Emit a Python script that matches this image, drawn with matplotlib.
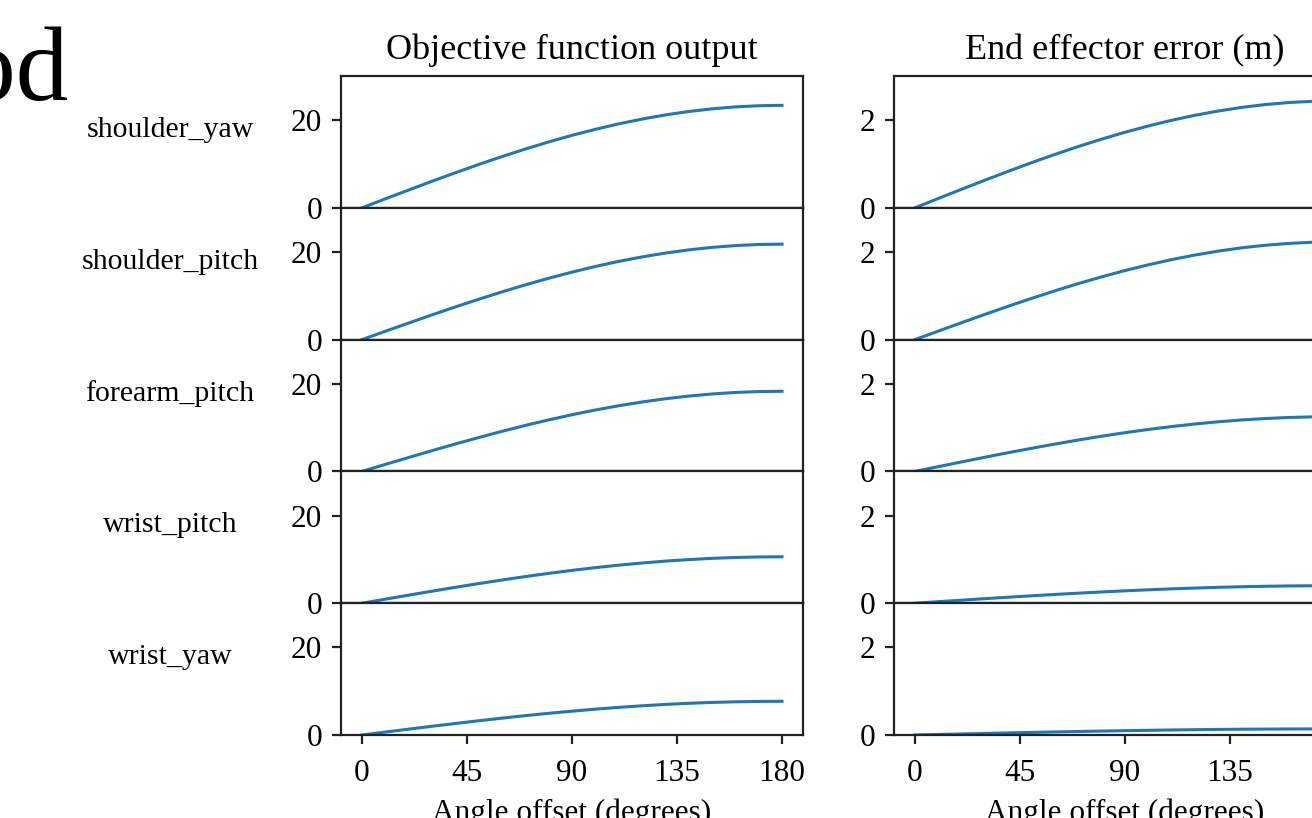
import matplotlib
matplotlib.use("Agg")
import matplotlib.pyplot as plt

# ---- data ----
angles = [0, 10, 20, 30, 40, 50, 60, 70, 80, 90, 100, 110, 120, 130, 140, 150, 160, 170, 180]
joints = ["shoulder_yaw", "shoulder_pitch", "forearm_pitch", "wrist_pitch", "wrist_yaw"]

obj_shoulder_yaw   = [0, 2.04, 4.06, 6.06, 8.00, 9.89, 11.70, 13.42, 15.04, 16.55, 17.92, 19.17, 20.26, 21.21, 21.99, 22.60, 23.04, 23.31, 23.4]
obj_shoulder_pitch = [0, 1.90, 3.78, 5.64, 7.46, 9.21, 10.90, 12.50, 14.01, 15.41, 16.70, 17.86, 18.88, 19.76, 20.49, 21.06, 21.47, 21.72, 21.8]
obj_forearm_pitch  = [0, 1.60, 3.18, 4.74, 6.26, 7.73, 9.15, 10.50, 11.76, 12.94, 14.02, 14.99, 15.85, 16.59, 17.20, 17.68, 18.02, 18.23, 18.3]
obj_wrist_pitch    = [0, 0.92, 1.84, 2.74, 3.63, 4.48, 5.30, 6.08, 6.81, 7.50, 8.12, 8.68, 9.18, 9.61, 9.96, 10.24, 10.44, 10.56, 10.6]
obj_wrist_yaw      = [0, 0.67, 1.34, 1.99, 2.63, 3.25, 3.85, 4.42, 4.95, 5.44, 5.90, 6.31, 6.67, 6.98, 7.24, 7.44, 7.58, 7.67, 7.7]

err_shoulder_yaw   = [0, 0.213, 0.424, 0.631, 0.834, 1.031, 1.22, 1.40, 1.568, 1.725, 1.869, 1.999, 2.113, 2.211, 2.293, 2.357, 2.403, 2.431, 2.44]
err_shoulder_pitch = [0, 0.194, 0.387, 0.577, 0.763, 0.942, 1.115, 1.279, 1.433, 1.577, 1.708, 1.827, 1.931, 2.021, 2.096, 2.154, 2.196, 2.222, 2.23]
err_forearm_pitch  = [0, 0.109, 0.217, 0.324, 0.428, 0.528, 0.625, 0.717, 0.804, 0.884, 0.958, 1.024, 1.083, 1.133, 1.175, 1.207, 1.231, 1.245, 1.25]
err_wrist_pitch    = [0, 0.035, 0.069, 0.104, 0.137, 0.169, 0.2, 0.229, 0.257, 0.283, 0.306, 0.328, 0.346, 0.363, 0.376, 0.386, 0.394, 0.398, 0.4]
err_wrist_yaw      = [0, 0.012, 0.024, 0.036, 0.048, 0.059, 0.07, 0.08, 0.09, 0.099, 0.107, 0.115, 0.121, 0.127, 0.132, 0.135, 0.138, 0.139, 0.14]

objective = [obj_shoulder_yaw, obj_shoulder_pitch, obj_forearm_pitch, obj_wrist_pitch, obj_wrist_yaw]
ee_error = [err_shoulder_yaw, err_shoulder_pitch, err_forearm_pitch, err_wrist_pitch, err_wrist_yaw]

col_titles = ["Objective function output", "End effector error (m)"]
x_ticks = [0, 45, 90, 135, 180]
obj_ticks = [0, 20]
err_ticks = [0, 2]
x_label = "Angle offset (degrees)"

# ---- style ----
plt.rcParams["font.family"] = ["Liberation Serif", "DejaVu Serif"]
W, H = 1312, 818
fig = plt.figure(figsize=(W / 100, H / 100), dpi=100)

ax_w = 462
row_h = 131.8
top = 76
lefts = [341, 894]
line_color = "#1f77b4"
ink = "#222222"

for c in range(2):
    data = objective if c == 0 else ee_error
    yt = obj_ticks if c == 0 else err_ticks
    ytop = 30.1 if c == 0 else 3.01
    for r in range(5):
        y0 = top + row_h * (r + 1)
        ax = fig.add_axes([lefts[c] / W, (H - y0) / H, ax_w / W, row_h / H])
        ax.plot(angles, data[r], color=line_color, lw=2.2)
        ax.set_xlim(-9, 189)
        ax.set_ylim(0, ytop)
        ax.set_yticks(yt)
        ax.set_xticks(x_ticks)
        for s in ax.spines.values():
            s.set_linewidth(1.6)
            s.set_color(ink)
        ax.tick_params(axis="y", length=6.5, width=1.6, pad=7, labelsize=22.5, color=ink)
        if r < 4:
            ax.tick_params(axis="x", bottom=False, labelbottom=False)
        else:
            ax.tick_params(axis="x", length=6.5, width=1.6, pad=11, labelsize=22.5, color=ink)
            ax.set_xlabel(x_label, fontsize=22.5, labelpad=7)
        if r == 0:
            ax.set_title(col_titles[c], fontsize=26, pad=12)
        if c == 0:
            ax.set_ylabel(joints[r], rotation=0, fontsize=21.5, ha="center", va="center")
            ax.yaxis.set_label_coords((170 - lefts[0]) / ax_w, 0.5 + 12 / row_h)

fig.text(68 / W, 1 - 100 / H, "od", fontsize=76, ha="right", va="baseline")

fig.savefig("out.png", dpi=100)
